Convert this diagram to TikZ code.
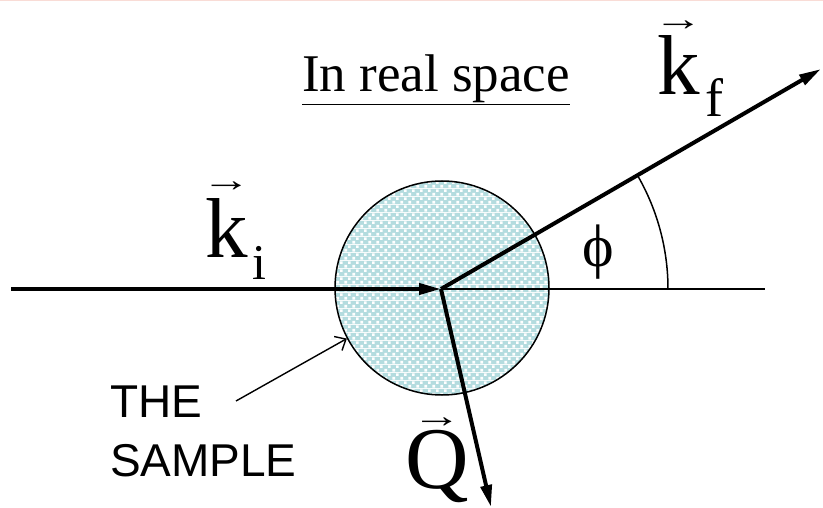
\documentclass[tikz,border=0pt]{standalone}
\usepackage{fontspec}
\setmainfont{Liberation Serif}
\newfontfamily\arialfont{Liberation Sans}
\usetikzlibrary{arrows.meta,patterns.meta}
\definecolor{sampleteal}{HTML}{B4DCDF}
\definecolor{topPink}{HTML}{F9DCD6}
\tikzdeclarepattern{
  name=samplechecks,
  type=colored,
  bottom left={(0pt,0pt)},
  top right={(8pt,8pt)},
  tile size={(8pt,8pt)},
  code={
    \fill[sampleteal] (0pt,0pt) rectangle (8pt,8pt);
    \fill[white] (0.5pt,0.5pt) rectangle (3.5pt,3.5pt);
    \fill[white] (4.5pt,4.5pt) rectangle (7.5pt,7.5pt);
  }
}
\newcommand\vecover[3]{% #1 letter, #2 arrow font size, #3 gap
  \leavevmode\vbox{\offinterlineskip\halign{\hfil##\hfil\cr
  \hbox to 0pt{\hss\scalebox{1.45}[1]{\fontsize{#2}{#2}\selectfont →}\hss}\cr\noalign{\kern#3}#1\cr}}}
\tikzset{
  thickvec/.style={line width=4pt,-{Triangle[length=22pt,width=11pt]}},
  thinline/.style={line width=1.5pt},
  lbl/.style={inner sep=0pt,outer sep=0pt,anchor=base west},
}
\begin{document}
\begin{tikzpicture}[x=1pt,y=-1pt]
\useasboundingbox (0,0) rectangle (823,508);
\coordinate (tl) at (0,0.7);
\coordinate (tr) at (823,0.7);
\draw[topPink,line width=1.5pt] (tl) -- (tr);
% sample
\node[circle,minimum size=214pt,inner sep=0pt,draw,line width=1.5pt,pattern=samplechecks] (sample) at (442,288) {};
\coordinate (o) at (441,289);
\coordinate (start) at (11,289);
\coordinate (hend) at (765,289);
\coordinate (kfend) at (821,69);
\coordinate (qend) at (491,507);
\draw[thinline] (o) -- (hend);
\draw[thickvec] (start) -- (o);
\draw[thickvec] (o) -- (kfend);
\draw[thickvec] (o) -- (qend);
% angle arc
\draw[thinline] ([shift={(227,0)}]o) arc[start angle=0,end angle=29.8,radius=227pt];
% labels
\node[lbl] (ki) at (205,258) {\fontsize{85}{85}\selectfont\vecover{k}{34}{8pt}\kern5pt\raisebox{-22pt}{\fontsize{50}{50}\selectfont i}};
\node[lbl] (kf) at (657,95) {\fontsize{85}{85}\selectfont\vecover{k}{34}{6pt}\kern6pt\raisebox{-22pt}{\fontsize{54}{54}\selectfont f}};
\node[lbl] (phi) at (582,266) {\fontsize{60}{60}\selectfont ϕ};
\node[lbl] (Q) at (405,488) {\fontsize{88}{88}\selectfont\vecover{Q}{34}{2pt}};
\node[lbl] (title) at (302,92) {\fontsize{53}{53}\selectfont\underline{In real space}};
\node[lbl,align=left,font=\arialfont\fontsize{46}{59}\selectfont] (the) at (110,476) {THE\\SAMPLE};
\coordinate (ptr) at (236,401);
\draw[line width=1.4pt,-{Straight Barb[length=9pt,width=16pt]}] (ptr) -- (sample.-152);
\end{tikzpicture}
\end{document}
